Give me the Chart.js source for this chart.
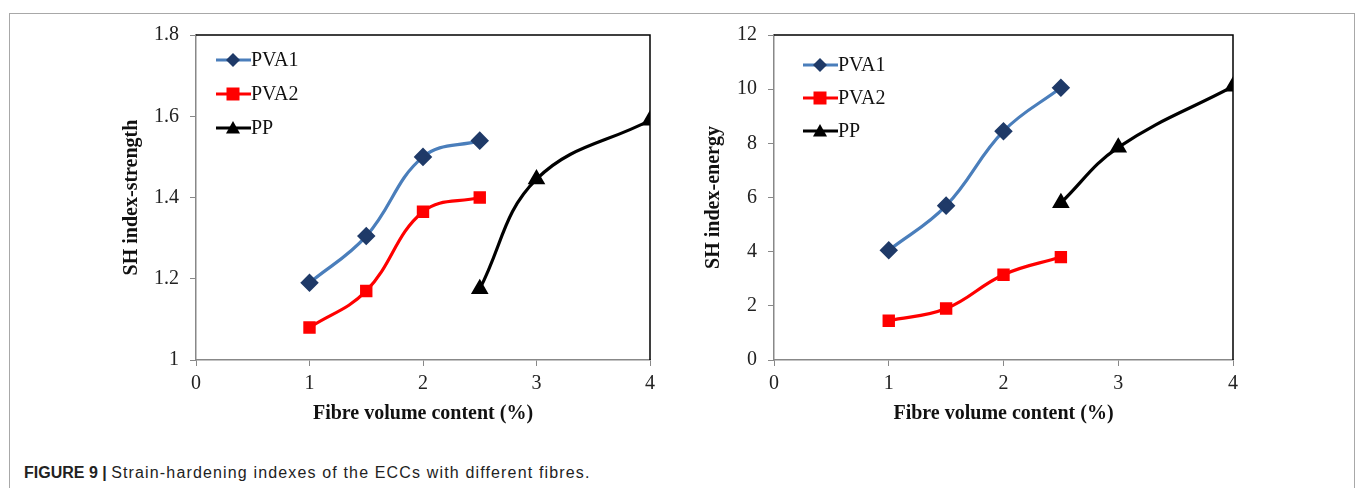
<!DOCTYPE html>
<html>
<head>
<meta charset="utf-8">
<script src="https://cdn.jsdelivr.net/npm/chart.js@4.4.1/dist/chart.umd.min.js"></script>
<style>
  body { margin:0; background:#fff; width:1355px; height:488px; overflow:hidden; position:relative; }
  .frame { position:absolute; left:9px; top:13px; width:1344px; height:500px; border:1px solid #a8a8a8; }
  .panel { position:absolute; top:0; height:440px; }
  #leftBox { left:0; width:680px; }
  #rightBox { left:680px; width:675px; }
  .caption { position:absolute; left:24px; top:464px; font-family:"Liberation Sans", Arial, sans-serif; font-size:16px; color:#222; }
  .caption b { font-weight:bold; }
  .caption span { letter-spacing:1.15px; }
</style>
</head>
<body>
<div class="frame"></div>
<div class="panel" id="leftBox"><canvas id="leftChart"></canvas></div>
<div class="panel" id="rightBox"><canvas id="rightChart"></canvas></div>
<div class="caption"><b>FIGURE 9 |</b> <span>Strain-hardening indexes of the ECCs with different fibres.</span></div>

<script>
// data
const seriesNames = ["PVA1", "PVA2", "PP"];
const xPva = [1, 1.5, 2, 2.5];
const xPp = [2.5, 3, 4];

const strengthPva1 = [1.19, 1.305, 1.50, 1.54];
const strengthPva2 = [1.08, 1.17, 1.365, 1.40];
const strengthPp = [1.175, 1.445, 1.59];

const energyPva1 = [4.05, 5.7, 8.45, 10.05];
const energyPva2 = [1.45, 1.9, 3.15, 3.8];
const energyPp = [5.8, 7.85, 10.1];

const xTitle = "Fibre volume content (%)";
const serif = "'Liberation Serif', 'Times New Roman', serif";

const styles = [
  { line: "#4a7ebb", fill: "#1f3a68", shape: "rectRot", r: 7 },
  { line: "#ff0000", fill: "#ff0000", shape: "rect", r: 6.5 },
  { line: "#000000", fill: "#000000", shape: "triangle", r: 7 }
];

function pts(xs, ys) {
  return xs.map((x, i) => ({ x: x, y: ys[i] }));
}

function drawMarker(ctx, shape, x, y, r, color) {
  ctx.save();
  ctx.fillStyle = color;
  ctx.beginPath();
  if (shape === "rectRot") {
    ctx.moveTo(x, y - r); ctx.lineTo(x + r, y); ctx.lineTo(x, y + r); ctx.lineTo(x - r, y);
  } else if (shape === "rect") {
    ctx.rect(x - r, y - r, 2 * r, 2 * r);
  } else {
    ctx.moveTo(x, y - r); ctx.lineTo(x + r, y + r * 0.8); ctx.lineTo(x - r, y + r * 0.8);
  }
  ctx.closePath();
  ctx.fill();
  ctx.restore();
}

// top/right frame of the plot plus the inset legend
const plotDecor = {
  id: "plotDecor",
  afterDraw(chart, args, opts) {
    const ctx = chart.ctx;
    const a = chart.chartArea;
    ctx.save();
    ctx.strokeStyle = "#000";
    ctx.lineWidth = 1.5;
    ctx.beginPath();
    ctx.moveTo(a.left, a.top);
    ctx.lineTo(a.right, a.top);
    ctx.lineTo(a.right, a.bottom);
    ctx.stroke();

    ctx.font = "20px " + serif;
    ctx.textBaseline = "middle";
    ctx.fillStyle = "#111";
    seriesNames.forEach((name, i) => {
      const st = styles[i];
      const y = a.top + opts.top + i * opts.gap;
      const x0 = a.left + opts.left;
      ctx.strokeStyle = st.line;
      ctx.lineWidth = 3;
      ctx.beginPath();
      ctx.moveTo(x0, y);
      ctx.lineTo(x0 + 35, y);
      ctx.stroke();
      drawMarker(ctx, st.shape, x0 + 17, y, st.r, st.fill);
      ctx.fillText(name, x0 + 35, y + 1);
    });
    ctx.restore();
  }
};

function makeChart(id, ys, yMin, yMax, yStep, yTitle, pad, yWidth, legendPos) {
  const sets = [pts(xPva, ys[0]), pts(xPva, ys[1]), pts(xPp, ys[2])];
  return new Chart(document.getElementById(id), {
    type: "line",
    data: {
      datasets: sets.map((d, i) => ({
        label: seriesNames[i],
        data: d,
        borderColor: styles[i].line,
        backgroundColor: styles[i].fill,
        pointBackgroundColor: styles[i].fill,
        pointBorderColor: styles[i].fill,
        pointStyle: styles[i].shape,
        pointRadius: styles[i].r,
        borderWidth: 3.2,
        tension: 0.4,
        fill: false
      }))
    },
    options: {
      responsive: true,
      maintainAspectRatio: false,
      animation: false,
      layout: { padding: pad },
      plugins: {
        legend: { display: false },
        tooltip: { enabled: false },
        plotDecor: legendPos
      },
      scales: {
        x: {
          type: "linear",
          min: 0, max: 4,
          ticks: { stepSize: 1, color: "#222", font: { family: serif, size: 20 }, padding: 6 },
          grid: { drawOnChartArea: false, tickLength: 6, color: "#888" },
          border: { color: "#888", width: 1.5 },
          title: { display: true, text: xTitle, color: "#111", font: { family: serif, size: 20, weight: "bold" }, padding: { top: 8 } },
          afterFit: s => { s.height = 70; }
        },
        y: {
          min: yMin, max: yMax,
          ticks: {
            stepSize: yStep, color: "#222", font: { family: serif, size: 20 }, padding: 11,
            callback: v => String(Math.round(v * 10) / 10)
          },
          grid: { drawOnChartArea: false, tickLength: 6, color: "#888" },
          border: { color: "#888", width: 1.5 },
          title: { display: true, text: yTitle, color: "#111", font: { family: serif, size: 20, weight: "bold" }, padding: { top: 4, bottom: 4 } },
          afterFit: s => { s.width = yWidth; }
        }
      }
    },
    plugins: [plotDecor]
  });
}

makeChart("leftChart", [strengthPva1, strengthPva2, strengthPp], 1, 1.8, 0.2,
  "SH index-strength", { left: 116, right: 30, top: 35, bottom: 10 }, 80, { left: 20, top: 25, gap: 34 });

makeChart("rightChart", [energyPva1, energyPva2, energyPp], 0, 12, 2,
  "SH index-energy", { left: 18, right: 122, top: 35, bottom: 10 }, 76, { left: 29, top: 30, gap: 33 });
</script>
</body>
</html>
